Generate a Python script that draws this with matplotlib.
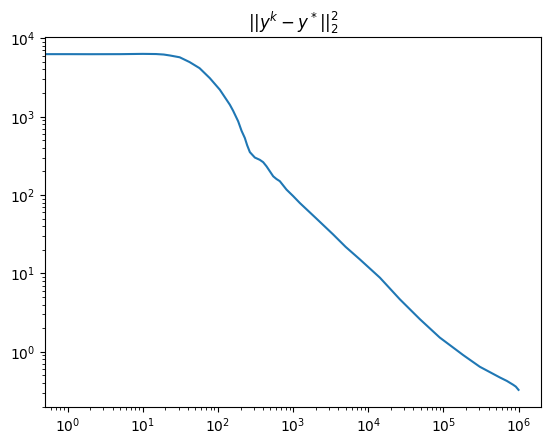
import matplotlib

matplotlib.use("Agg")

import matplotlib.pyplot as plt
import numpy as np

# iteration index k and squared distance ||y^k - y*||_2^2
iters = [0, 1, 2, 5, 10, 15, 19, 23, 31, 42, 57, 78, 106, 144, 159, 186, 206,
         228, 245, 266, 310, 360, 400, 443, 544, 600, 666, 818, 1000, 1230,
         2000, 3410, 5000, 7730, 14300, 26300, 48600, 89500, 150000, 183000,
         305000, 564000, 700000, 848000, 920000, 1000000]
dist_sq = [6250, 6250, 6240, 6250, 6300, 6270, 6180, 6010, 5700, 4950, 4140,
           3090, 2200, 1417, 1190, 869, 660, 533, 430, 352, 300, 281, 262,
           232, 173, 160, 150, 117, 97, 79, 51, 31.4, 21.8, 15.1, 8.82, 4.68,
           2.61, 1.52, 1.05, 0.91, 0.645, 0.471, 0.425, 0.38, 0.36, 0.327]

fig, ax = plt.subplots(figsize=(6.4, 4.8))
ax.plot(np.array(iters, dtype=float), np.array(dist_sq))
ax.set_xscale("log")
ax.set_yscale("log")
ax.set_title(r"$||y^k - y^*||_2^2$")
fig.savefig("out.png", dpi=100, bbox_inches="tight")
plt.close(fig)
